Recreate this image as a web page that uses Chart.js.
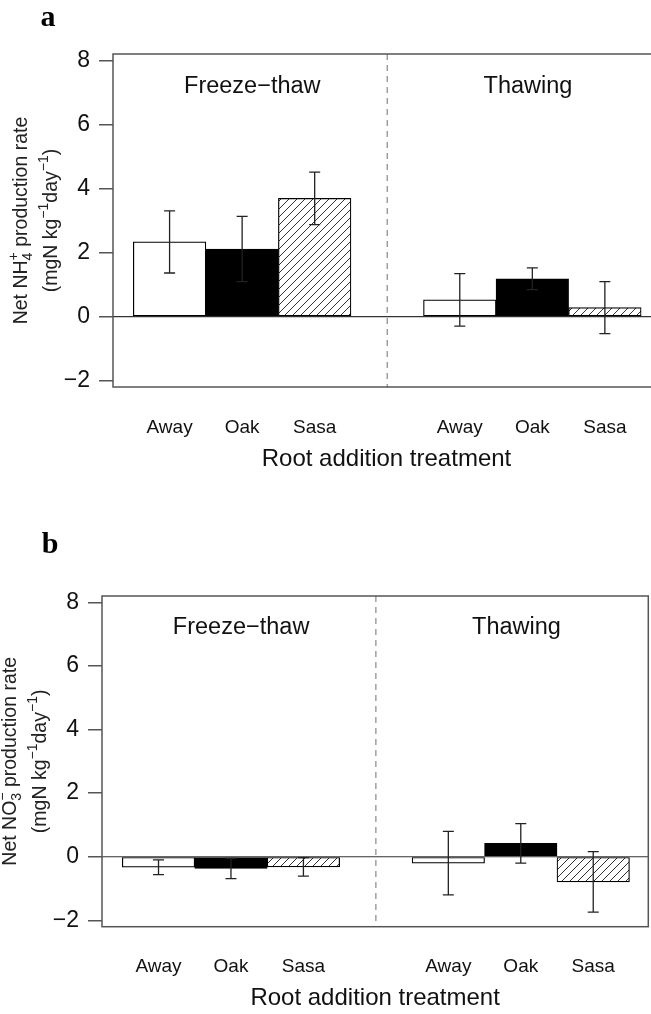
<!DOCTYPE html>
<html>
<head>
<meta charset="utf-8">
<script src="https://cdn.jsdelivr.net/npm/chart.js@4.4.1/dist/chart.umd.min.js"></script>
<style>
    html, body { margin: 0; padding: 0; background: #fff; overflow: hidden; width: 651px; height: 1014px; }
    canvas { position: absolute; left: 0; }
    #chartA { top: 0; }
    #chartB { top: 475px; }
</style>
</head>
<body>
<canvas id="chartA" width="680" height="475"></canvas>
<canvas id="chartB" width="651" height="539"></canvas>
<script>
// data
const treatments = ['Away', 'Oak', 'Sasa'];
const periods = ['Freeze\u2212thaw', 'Thawing'];
const barX = [0, 1, 2, 4, 5, 6];          // bar slots, slot 3 is the gap between periods
const yTicks = [-2, 0, 2, 4, 6, 8];
const nh4Mean = [2.33, 2.11, 3.69, 0.52, 1.18, 0.28];
const nh4Err = [0.97, 1.02, 0.82, 0.82, 0.34, 0.81];
const no3Mean = [-0.33, -0.37, -0.32, -0.20, 0.42, -0.79];
const no3Err = [0.23, 0.32, 0.29, 1.00, 0.62, 0.95];

const FONT = '"Liberation Sans", Arial, sans-serif';

// diagonal hatch like R's density/angle fill
function makeHatch() {
    const c = document.createElement('canvas');
    c.width = 8; c.height = 8;
    const g = c.getContext('2d');
    g.fillStyle = '#fff';
    g.fillRect(0, 0, 8, 8);
    g.strokeStyle = '#333';
    g.lineWidth = 1;
    g.beginPath();
    g.moveTo(0, 8); g.lineTo(8, 0);
    g.moveTo(-2, 2); g.lineTo(2, -2);
    g.moveTo(6, 10); g.lineTo(10, 6);
    g.stroke();
    return g.createPattern(c, 'repeat');
}
const fills = ['#ffffff', '#000000', makeHatch()];

/**
 * 画带上下标的旋转文字
 */
function drawRich(ctx, segs, cx, cy, size) {
    const small = size * 0.72;
    const widths = segs.map(s => {
        if (s.t !== undefined) {
            ctx.font = `${size}px ${FONT}`;
            return ctx.measureText(s.t).width;
        }
        ctx.font = `${small}px ${FONT}`;
        return Math.max(s.sup ? ctx.measureText(s.sup).width : 0, s.sub ? ctx.measureText(s.sub).width : 0);
    });
    const total = widths.reduce((a, b) => a + b, 0);
    ctx.save();
    ctx.translate(cx, cy);
    ctx.rotate(-Math.PI / 2);
    ctx.textBaseline = 'middle';
    ctx.textAlign = 'left';
    let px = -total / 2;
    segs.forEach((s, i) => {
        if (s.t !== undefined) {
            ctx.font = `${size}px ${FONT}`;
            ctx.fillText(s.t, px, 0);
        } else {
            ctx.font = `${small}px ${FONT}`;
            if (s.sup) ctx.fillText(s.sup, px, -size * 0.42);
            if (s.sub) ctx.fillText(s.sub, px, size * 0.3);
        }
        px += widths[i];
    });
    ctx.restore();
}

const rPlot = {
    id: 'rPlot',
    beforeDatasetsDraw(chart, args, o) {
        const { ctx, chartArea: a, scales: { x, y } } = chart;
        ctx.save();
        // zero line
        const y0 = y.getPixelForValue(0);
        ctx.strokeStyle = '#333';
        ctx.lineWidth = 1.2;
        ctx.beginPath();
        ctx.moveTo(a.left, y0); ctx.lineTo(a.right, y0);
        ctx.stroke();
        // dashed separator between periods
        const xs = x.getPixelForValue(3);
        ctx.strokeStyle = '#888';
        ctx.setLineDash([6, 5]);
        ctx.beginPath();
        ctx.moveTo(xs, a.top); ctx.lineTo(xs, a.bottom);
        ctx.stroke();
        ctx.restore();
    },
    afterDatasetsDraw(chart, args, o) {
        const { ctx, chartArea: a, scales: { x, y } } = chart;
        ctx.save();
        // error bars
        ctx.strokeStyle = '#222';
        ctx.lineWidth = 1.3;
        barX.forEach((bx, i) => {
            const px = x.getPixelForValue(bx);
            const hi = y.getPixelForValue(o.means[i] + o.errs[i]);
            const lo = y.getPixelForValue(o.means[i] - o.errs[i]);
            ctx.beginPath();
            ctx.moveTo(px, hi); ctx.lineTo(px, lo);
            ctx.moveTo(px - 5.5, hi); ctx.lineTo(px + 5.5, hi);
            ctx.moveTo(px - 5.5, lo); ctx.lineTo(px + 5.5, lo);
            ctx.stroke();
        });
        // frame
        ctx.strokeStyle = '#555';
        ctx.lineWidth = 1.5;
        ctx.strokeRect(a.left, a.top, a.right - a.left, a.bottom - a.top);
        // period labels
        ctx.fillStyle = '#111';
        ctx.font = `23.5px ${FONT}`;
        ctx.textAlign = 'center';
        ctx.textBaseline = 'middle';
        ctx.fillText(periods[0], x.getPixelForValue(1.14), y.getPixelForValue(7.2));
        ctx.fillText(periods[1], x.getPixelForValue(4.94), y.getPixelForValue(7.2));
        // y title, two lines
        const cy = (a.top + a.bottom) / 2;
        ctx.fillStyle = '#222';
        drawRich(ctx, o.title1, a.left - 91, cy, 19.5);
        drawRich(ctx, o.title2, a.left - 61, cy, 19.5);
        // panel letter
        ctx.fillStyle = '#000';
        ctx.font = 'bold 30px "Liberation Serif", "Times New Roman", serif';
        ctx.fillText(o.letter, o.letterX, o.letterY);
        ctx.restore();
    }
};

function makeChart(id, o) {
    return new Chart(document.getElementById(id), {
        type: 'bar',
        data: {
            datasets: [{
                data: barX.map((bx, i) => ({ x: bx, y: o.means[i] })),
                backgroundColor: barX.map((_, i) => fills[i % 3]),
                borderColor: '#000',
                borderWidth: 1.2,
                borderSkipped: false,
                barPercentage: 1,
                categoryPercentage: 1,
            }],
        },
        options: {
            responsive: false,
            animation: false,
            devicePixelRatio: 1,
            layout: { padding: { top: o.top, right: o.right, left: 0, bottom: 0 } },
            plugins: {
                legend: { display: false },
                tooltip: { enabled: false },
                rPlot: o,
            },
            scales: {
                x: {
                    type: 'linear',
                    offset: false,
                    min: -0.78,
                    max: 6.76,
                    afterBuildTicks: s => { s.ticks = barX.map(v => ({ value: v })); },
                    afterFit: s => { s.height = o.xHeight; },
                    grid: { display: false, drawTicks: false, offset: false },
                    border: { display: false },
                    ticks: {
                        autoSkip: false,
                        maxRotation: 0,
                        padding: 29,
                        color: '#111',
                        font: { family: FONT, size: 19 },
                        callback: (v, i) => treatments[i % 3],
                    },
                    title: {
                        display: true,
                        text: 'Root addition treatment',
                        color: '#111',
                        font: { family: FONT, size: 24 },
                        padding: { top: 0, bottom: 1 },
                    },
                },
                y: {
                    min: -2.2,
                    max: 8.2,
                    afterBuildTicks: s => { s.ticks = yTicks.map(v => ({ value: v })); },
                    afterFit: s => { s.width = o.left; },
                    grid: { drawOnChartArea: false, drawTicks: true, tickLength: 14, color: '#555', lineWidth: 1.5 },
                    border: { display: false },
                    ticks: {
                        padding: 9,
                        color: '#111',
                        font: { family: FONT, size: 23 },
                        callback: v => (v < 0 ? '\u2212' + Math.abs(v) : String(v)),
                    },
                },
            },
        },
        plugins: [rPlot],
    });
}

makeChart('chartA', {
    means: nh4Mean, errs: nh4Err,
    top: 54, left: 113, right: 20, xHeight: 88,
    letter: 'a', letterX: 48, letterY: 18,
    title1: [{ t: 'Net NH' }, { sup: '+', sub: '4' }, { t: ' production rate' }],
    title2: [{ t: '(mgN kg' }, { sup: '\u22121' }, { t: 'day' }, { sup: '\u22121' }, { t: ')' }],
});

makeChart('chartB', {
    means: no3Mean, errs: no3Err,
    top: 121, left: 102, right: 2.7, xHeight: 87.3,
    letter: 'b', letterX: 50, letterY: 70,
    title1: [{ t: 'Net NO' }, { sup: '\u2212', sub: '3' }, { t: ' production rate' }],
    title2: [{ t: '(mgN kg' }, { sup: '\u22121' }, { t: 'day' }, { sup: '\u22121' }, { t: ')' }],
});
</script>
</body>
</html>
